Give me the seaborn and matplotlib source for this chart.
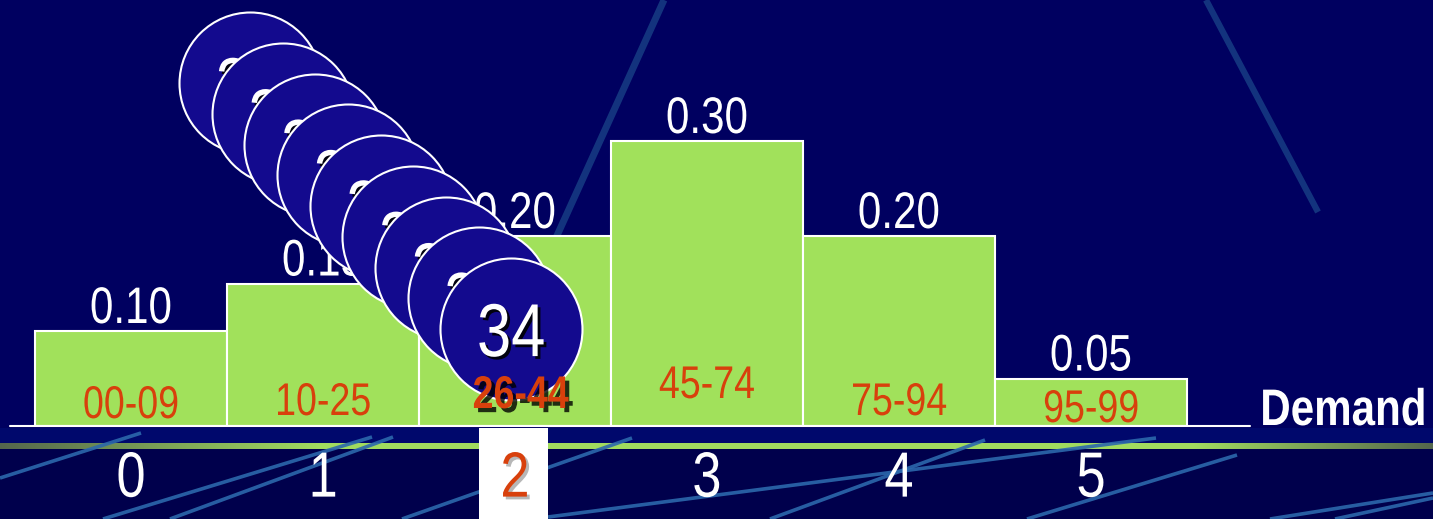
import numpy as np
import pandas as pd
import matplotlib
matplotlib.use("Agg")
import matplotlib.pyplot as plt
import matplotlib.patheffects as pe
from matplotlib.patches import Rectangle
from matplotlib.transforms import Affine2D
import seaborn as sns

# ---------------- data ----------------
demand = ["0", "1", "2", "3", "4", "5"]
probability = [0.10, 0.15, 0.20, 0.30, 0.20, 0.05]
random_ranges = ["00-09", "10-25", "26-44", "45-74", "75-94", "95-99"]
drawn_number = "34"
selected = 2
# path of the falling ball (category position, probability units), one entry per frame
ball_x = [0.62, 0.79, 0.96, 1.13, 1.30, 1.47, 1.64, 1.81, 1.98]
ball_y = [0.361, 0.328, 0.296, 0.264, 0.232, 0.199, 0.166, 0.135, 0.102]

# ---------------- layout / style ----------------
W, H = 1433, 519
PX_CAT = 192.0      # pixels per category
PX_UNIT = 950.0     # pixels per probability unit
X0 = 131.0          # pixel x of category 0
BASE = 426.0        # pixel y of baseline
range_base_px = [418, 415, 408, 398, 415, 422]

sns.set_theme(style="white")
plt.rcParams["font.family"] = ["Liberation Sans", "DejaVu Sans"]

BG = "#000060"
GREEN = "#a1e15b"
RED = "#d8400c"
BALL = "#130a8e"
LINE = "#2c68ac"


class Squeeze(pe.AbstractPathEffect):
    """Narrow-font look: squeeze glyphs horizontally (Arial Narrow ~ 82% of Arial)."""

    def __init__(self, inner=None, sx=0.82, anchor="center"):
        super().__init__()
        self.inner = inner if inner is not None else pe.Normal()
        self.sx = sx
        self.anchor = anchor

    def draw_path(self, renderer, gc, tpath, affine, rgbFace=None):
        ext = tpath.get_extents(affine)
        if self.anchor == "left":
            cx = ext.x0
        elif self.anchor == "right":
            cx = ext.x1
        else:
            cx = 0.5 * (ext.x0 + ext.x1)
        a = affine + Affine2D().translate(-cx, 0).scale(self.sx, 1).translate(cx, 0)
        self.inner.draw_path(renderer, gc, tpath, a, rgbFace)


def narrow(shadow=None, anchor="center"):
    fx = []
    if shadow is not None:
        fx.append(Squeeze(pe.SimplePatchShadow(offset=shadow[0], shadow_rgbFace=shadow[1],
                                               alpha=shadow[2]), anchor=anchor))
    fx.append(Squeeze(anchor=anchor))
    return fx


fig = plt.figure(figsize=(W / 100, H / 100), dpi=100, facecolor=BG)

# ---------------- background decoration (pixel coordinates) ----------------
bg = fig.add_axes([0, 0, 1, 1], zorder=0)
bg.set_facecolor(BG)
bg.add_patch(Rectangle((0, 428), W, 15, color="#00086c", lw=0))
bg.add_patch(Rectangle((0, 449), W, 70, color="#00004c", lw=0))
# green rule with faded ends
L_FADE, R_FADE = 320, 240
dim = np.array([0.33, 0.40, 0.30])
bright = np.array([0.63, 0.86, 0.37])
bg.add_patch(Rectangle((0, 443), W, 6, facecolor=bright, lw=0, zorder=2))
xs = np.arange(W)
t = np.clip(np.minimum(xs / L_FADE, (W - xs) / R_FADE), 0, 1)
edge = t < 1
row = dim[None, :] * (1 - t[:, None]) + bright[None, :] * t[:, None]
bg.bar(xs[edge] + 0.5, 6, bottom=443, width=1.05, color=row[edge], linewidth=0,
       zorder=2.1)
upper = [((664, 0), (555, 240), 5.0), ((1206, 0), (1318, 212), 4.5)]
for (x1, y1), (x2, y2), lw in upper:
    bg.plot([x1, x2], [y1, y2], color="#1c4a8c", lw=lw, alpha=0.7,
            solid_capstyle="butt")
lower = [((0, 478), (141, 433)), ((103, 519), (372, 437)), ((170, 519), (393, 437)),
         ((402, 519), (632, 438)), ((548, 517), (1156, 438)), ((770, 519), (985, 440)),
         ((1027, 519), (1237, 455)), ((1270, 519), (1433, 493)), ((1335, 519), (1433, 498))]
for (x1, y1), (x2, y2) in lower:
    bg.plot([x1, x2], [y1, y2], color=LINE, lw=2.6, alpha=0.9, solid_capstyle="butt",
            zorder=3)
bg.set_xlim(0, W)
bg.set_ylim(H, 0)
bg.axis("off")

# ---------------- main chart ----------------
ax = fig.add_axes([0, (H - BASE) / H, 1, BASE / H], zorder=1)
ax.patch.set_alpha(0)
df = pd.DataFrame({"Demand": demand, "Probability": probability})
sns.barplot(data=df, x="Demand", y="Probability", ax=ax, color=GREEN,
            saturation=1, width=1.0, edgecolor="white", linewidth=1.5, zorder=2)
ax.set_xlim(-X0 / PX_CAT, (W - X0) / PX_CAT)
ax.set_ylim(0, BASE / PX_UNIT)
for s in ax.spines.values():
    s.set_visible(False)
ax.grid(False)
ax.set_xlabel("")
ax.set_ylabel("")
ax.set_yticks([])
ax.set_xticks(range(len(demand)), demand)
ax.tick_params(axis="x", length=0, pad=17, labelsize=46, labelcolor="white")
for i, lab in enumerate(ax.get_xticklabels()):
    if i == selected:
        lab.set_color(RED)
        lab.set_path_effects(narrow(((2, -2), "#888888", 0.6)))
    else:
        lab.set_path_effects(narrow())

# highlight under the selected category
ax.add_patch(Rectangle((selected - 0.19, -2 / PX_UNIT), 0.36, -0.12, facecolor="white",
                       edgecolor="none", clip_on=False, zorder=0.5))

# baseline
ax.axhline(0, xmin=10 / W, xmax=1250 / W, color="white", lw=1.5, clip_on=False, zorder=3)

# value labels
for i, p in enumerate(probability):
    ax.text(i, p + 8 / PX_UNIT, f"{p:.2f}", ha="center", va="baseline",
            fontsize=37, color="white", zorder=4, path_effects=narrow())

# random number ranges
for i, r in enumerate(random_ranges):
    if i == selected:
        continue
    y = (BASE - range_base_px[i]) / PX_UNIT
    ax.text(i, y, r, ha="center", va="baseline", fontsize=33, color=RED, zorder=4,
            path_effects=narrow())

# falling ball frames
d_pt = 142 * 0.72
for k, (bx, by) in enumerate(zip(ball_x, ball_y)):
    ax.scatter([bx], [by], s=d_pt ** 2, color=BALL, edgecolors="white",
               linewidths=1.5, zorder=10 + 2 * k, clip_on=False)
    ax.annotate(drawn_number, (bx, by), xytext=(0, -27 * 0.72), textcoords="offset points",
                ha="center", va="baseline", fontsize=54, color="white",
                zorder=11 + 2 * k, annotation_clip=False,
                path_effects=narrow(((2, -2), "black", 0.9)))

# selected range (on top)
ax.text(selected + 0.03, (BASE - range_base_px[selected]) / PX_UNIT, random_ranges[selected],
        ha="center", va="baseline", fontsize=33, fontweight="bold", color=RED, zorder=40,
        path_effects=narrow(((3, -3), "black", 0.8)))

# axis name
ax.text((1427 - X0) / PX_CAT, 1 / PX_UNIT, "Demand", ha="right", va="baseline",
        fontsize=37, fontweight="bold", color="white", zorder=5, clip_on=False,
        path_effects=narrow(anchor="right"))

fig.savefig("out.png", dpi=100, facecolor=BG)
